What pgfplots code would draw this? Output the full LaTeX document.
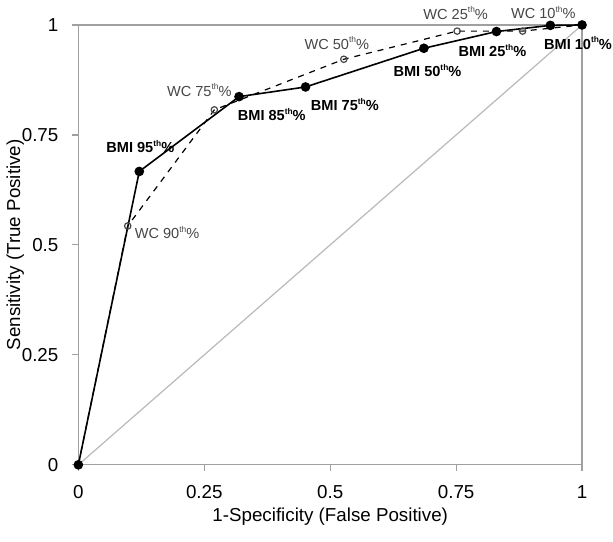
\documentclass[border=0pt]{standalone}
\usepackage{pgfplots}
\pgfplotsset{compat=1.18}
\usepackage{fontspec}
\setmainfont{Liberation Sans}
\definecolor{axgray}{RGB}{160,160,160}
\definecolor{diaggray}{RGB}{185,185,185}
\definecolor{wcgray}{RGB}{70,70,70}
\newcommand{\sth}{\raisebox{0.42em}{\fontsize{4.2}{4}\selectfont th}}

\begin{document}
\begin{tikzpicture}
\begin{axis}[
    scale only axis,
    width=252.5pt,
    height=220.5pt,
    xmin=0, xmax=1, ymin=0, ymax=1,
    xtick={0,0.25,0.5,0.75,1},
    ytick={0,0.25,0.5,0.75,1},
    xticklabels={0,0.25,0.5,0.75,1},
    yticklabels={0,0.25,0.5,0.75,1},
    xtick pos=bottom, ytick pos=left,
    tick align=outside,
    major tick length=3pt,
    tick style={axgray, line width=0.6pt},
    axis line style={axgray, line width=0.6pt},
    tick label style={font=\fontsize{9.4}{11}\selectfont},
    xticklabel style={yshift=-4pt},
    yticklabel style={xshift=-3.5pt},
    /pgf/number format/assume math mode=true,
    xlabel={1-Specificity (False Positive)},
    ylabel={Sensitivity (True Positive)},
    label style={font=\fontsize{9.4}{11}\selectfont},
    xlabel style={at={(axis description cs:0.5,-0.118)}, anchor=center},
    ylabel style={at={(axis description cs:-0.125,0.5)}, anchor=center},
    clip=false,
]
% extend bounding box to match reference margins
\path (rel axis cs:-0.1525,-0.1746) (rel axis cs:1.0614,1.0567);

% reference diagonal
\addplot[diaggray, line width=0.6pt] coordinates {(0,0) (1,1)};

% WC
\addplot[black, dashed, line width=0.6pt, mark=o, mark size=1.6pt,
    mark options={solid, wcgray, line width=0.6pt}] coordinates {
    (0,0) (0.098,0.543) (0.270,0.807) (0.527,0.922) (0.752,0.986) (0.882,0.986) (1,1)
};

% BMI
\addplot[black, line width=0.8pt, mark=*, mark size=2pt] coordinates {
    (0,0) (0.121,0.667) (0.319,0.837) (0.451,0.859) (0.686,0.947) (0.830,0.985) (0.937,0.999) (1,1)
};

\begin{scope}[every node/.style={font=\fontsize{7.3}{8}\selectfont, inner sep=0pt}]
\node at (axis cs:0.123,0.723) {\textbf{BMI 95\sth\%}};
\node at (axis cs:0.384,0.796) {\textbf{BMI 85\sth\%}};
\node at (axis cs:0.529,0.819) {\textbf{BMI 75\sth\%}};
\node at (axis cs:0.693,0.896) {\textbf{BMI 50\sth\%}};
\node at (axis cs:0.822,0.941) {\textbf{BMI 25\sth\%}};
\node at (axis cs:0.992,0.959) {\textbf{BMI 10\sth\%}};
\node[text=wcgray] at (axis cs:0.176,0.528) {WC 90\sth\%};
\node[text=wcgray] at (axis cs:0.240,0.852) {WC 75\sth\%};
\node[text=wcgray] at (axis cs:0.513,0.959) {WC 50\sth\%};
\node[text=wcgray] at (axis cs:0.749,1.027) {WC 25\sth\%};
\node[text=wcgray] at (axis cs:0.923,1.029) {WC 10\sth\%};
\end{scope}
\end{axis}
\end{tikzpicture}
\end{document}
